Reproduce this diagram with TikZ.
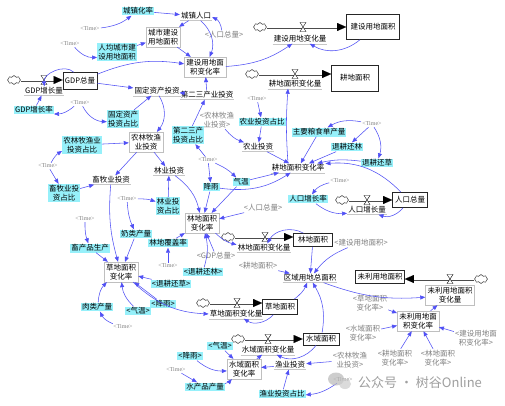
\documentclass[tikz,border=0pt]{standalone}
\usepackage{fontspec}
\newfontfamily\cjk{Noto Sans CJK SC}
\newfontfamily\tmfont{Liberation Serif}
\usetikzlibrary{arrows.meta,shapes.symbols,calc}
\definecolor{arblue}{RGB}{80,80,245}
\definecolor{cyanfill}{RGB}{150,240,250}
\tikzset{
 base/.style={font=\cjk\fontsize{7.5}{9}\selectfont, inner sep=1pt, align=center},
 lbl/.style={base, append after command={(\tikzlastnode.south west) edge[draw=gray!45, line width=0.4pt] (\tikzlastnode.south east)}},
 cy/.style={base, fill=cyanfill},
 aux/.style={base, draw=gray!50, line width=0.4pt, inner sep=2pt},
 sh/.style={base, text=gray},
 stock/.style={base, draw=black!85, line width=0.7pt, inner sep=2pt},
 tm/.style={font=\tmfont\fontsize{6}{7}\selectfont, text=gray, inner sep=1pt},
 cld/.style={cloud, draw=black!80, cloud puffs=8, minimum width=13pt, minimum height=9pt, inner sep=0pt, line width=0.5pt, fill=white},
 ar/.style={draw=arblue, line width=0.55pt, -{Triangle[length=5pt,width=4pt]}},
 pipe/.style={draw=black!70, double=white, double distance=2pt, line width=0.5pt},
 tipa/.style={-{Triangle[length=9pt,width=8pt]}, line width=0.01pt},
 valve/.pic={\draw[fill=white, line width=0.4pt] (-3,4.5) -- (3,4.5) -- (-3,-4.5) -- (3,-4.5) -- cycle;}
}
\begin{document}
\begin{tikzpicture}[x=1pt,y=1pt]
\useasboundingbox[fill=white] (0,0) rectangle (505,-405);

% ---------- nodes ----------
\node[cy] (czhl) at (138,-11) {城镇化率};
\node[lbl] (czrk) at (196,-16) {城镇人口};
\node[tm] (t1) at (90,-29) {<Time>};
\node[tm] (t2) at (70,-44) {<Time>};
\node[cy] (rjcs) at (117,-52) {人均城市建\\设用地面积};
\node[aux] (csjs) at (163,-37) {城市建设\\用地面积};
\node[sh] (rk1) at (224,-35) {<人口总量>};
\node[aux] (jsbh) at (205,-67) {建设用地面\\积变化率};
\node[cld] (c1) at (260,-27) {};
\coordinate (v1) at (303,-27);
\node[lbl] (jsbl) at (300,-39) {建设用地变化量};
\node[stock, minimum width=53pt, minimum height=25pt] (jsmj) at (373,-27) {建设用地面积};

\node[cld] (c2) at (252,-74) {};
\coordinate (v2) at (295,-74);
\node[lbl] (gdbl) at (295,-84) {耕地面积变化量};
\node[stock, minimum width=47pt, minimum height=26pt] (gdmj) at (355,-78) {耕地面积};

\node[cld] (c3) at (14,-80) {};
\coordinate (v3) at (44,-80);
\node[lbl] (gdpzl) at (44,-91) {GDP增长量};
\node[stock, minimum width=34pt, minimum height=17pt] (gdp) at (80,-81) {GDP总量};
\node[cy] (gdpr) at (34,-110) {GDP增长率};
\node[tm] (t3) at (80,-103) {<Time>};
\node[lbl] (gdzc) at (157,-91) {固定资产投资};
\node[cy] (gdzb) at (123,-119) {固定资产\\投资占比};
\node[lbl] (dsc) at (207,-95) {第二三产业投资};
\node[cy] (dscb) at (188,-135) {第二三产\\投资占比};
\node[aux] (nlm) at (146,-142) {农林牧渔\\业投资};
\node[sh] (nlmsh) at (217,-120) {<农林牧渔\\业投资>};
\node[tm] (t4) at (257,-99) {<Time>};
\node[cy] (nyzb) at (262,-122) {农业投资占比};
\node[lbl] (nytz) at (258,-147) {农业投资};
\node[cy] (zyls) at (319,-132) {主要粮食单产量};
\node[tm] (t5) at (372,-124) {<Time>};
\node[cy] (tgl) at (347,-147) {退耕还林};
\node[cy] (tgc) at (377,-163) {退耕还草};
\node[lbl] (gdbh) at (298,-168) {耕地面积变化率};
\node[tm] (t6) at (208,-160) {<Time>};
\node[cy] (jy) at (211,-187) {降雨};
\node[cy] (qw) at (241,-182) {气温};
\node[tm] (t7) at (340,-181) {<Time>};
\node[cy] (rkzzl) at (308,-199) {人口增长率};
\node[cld] (c4) at (342,-200) {};
\coordinate (v4) at (367,-200);
\node[lbl] (rkbl) at (367,-210) {人口增长量};
\node[stock, minimum width=35pt, minimum height=15pt] (rkzl) at (410,-200) {人口总量};

\node[lbl] (lyt) at (169,-171) {林业投资};
\node[cy] (lyzb) at (168,-206) {林业投\\资占比};
\node[tm] (t8) at (127,-199) {<Time>};
\node[lbl] (xm) at (111,-180) {畜牧业投资};
\node[cy] (nlmb) at (82,-145) {农林牧渔业\\投资占比};
\node[tm] (t9) at (48,-166) {<Time>};
\node[cy] (xmzb) at (64,-193) {畜牧业投\\资占比};
\node[tm] (t10) at (85,-219) {<Time>};
\node[cy] (nl) at (136,-234) {奶类产量};
\node[cy] (xcp) at (90,-248) {畜产品生产};
\node[cy] (ldfg) at (168,-243) {林地覆盖率};
\node[aux] (ldbh) at (202,-223) {林地面积\\变化率};
\node[sh] (rk2) at (263,-208) {<人口总量>};
\node[cld] (c5) at (228,-237) {};
\coordinate (v5) at (265,-237);
\node[lbl] (ldbl) at (264,-248) {林地面积变化量};
\node[stock, minimum width=39pt, minimum height=13pt] (ldmj) at (313,-240) {林地面积};
\node[sh] (jsmjsh) at (361,-243) {<建设用地面积>};
\node[tm] (t11) at (168,-266) {<Time>};
\node[sh] (gdpsh) at (216,-256) {<GDP总量>};
\node[cy] (tglsh) at (203,-272) {<退耕还林>};
\node[sh] (gdmjsh) at (258,-266) {<耕地面积>};
\node[lbl] (qyzm) at (310,-278) {区域用地总面积};
\node[cy] (tgcsh) at (171,-284) {<退耕还草>};
\node[aux] (cdbh) at (121,-272) {草地面积\\变化率};
\node[cy] (jysh1) at (163,-304) {<降雨>};
\node[cy] (qwsh1) at (138,-311) {<气温>};
\node[cy] (rl) at (97,-307) {肉类产量};
\node[tm] (t12) at (123,-327) {<Time>};
\node[cld] (c6) at (203,-303) {};
\coordinate (v6) at (237,-303);
\node[lbl] (cdbl) at (236,-314) {草地面积变化量};
\node[stock, minimum width=35pt, minimum height=15pt] (cdmj) at (280,-307) {草地面积};

\node[stock, minimum width=46pt, minimum height=13pt] (wlmj) at (380,-277) {未利用地面积};
\node[cld] (c7) at (481,-279) {};
\coordinate (v7) at (450,-279);
\node[aux] (wlbl) at (450,-295) {未利用地面积\\变化量};
\node[sh] (cdbhsh) at (370,-303) {<草地面积\\变化率>};
\node[aux] (wlbh) at (418,-321) {未利用地面\\积变化率};
\node[sh] (swbhsh) at (363,-333) {<水域面积\\变化率>};
\node[sh] (jsbhsh) at (476,-338) {<建设用地面\\积变化率>};
\node[sh] (nlmsh2) at (350,-360) {<农林牧渔\\业投资>};
\node[sh] (gdbhsh) at (395,-358) {<耕地面积\\变化率>};
\node[sh] (ldbhsh) at (438,-358) {<林地面积\\变化率>};

\node[cld] (c8) at (238,-339) {};
\coordinate (v8) at (268,-339);
\node[lbl] (swbl) at (268,-350) {水域面积变化量};
\node[stock, minimum width=36pt, minimum height=12pt] (swmj) at (321,-339) {水域面积};
\node[cy] (qwsh2) at (220,-346) {<气温>};
\node[cy] (jysh2) at (190,-356) {<降雨>};
\node[aux] (swbh) at (244,-369) {水域面积\\变化率};
\node[lbl] (yytz) at (290,-365) {渔业投资};
\node[tm] (t13) at (176,-370) {<Time>};
\node[cy] (scp) at (205,-387) {水产品产量};
\node[cy] (yyzb) at (282,-394) {渔业投资占比};
\node[tm] (t14) at (343,-380) {<Time>};

% ---------- flows ----------
\foreach \c/\b in {c1/jsmj, c2/gdmj, c3/gdp, c4/rkzl, c5/ldmj, c6/cdmj, c8/swmj}{
  \draw[pipe, shorten >=8pt] (\c) -- (\c -| \b.west);
  \draw[tipa] ($(\c -| \b.west)+(-9,0)$) -- (\c -| \b.west);
}
\draw[pipe, shorten >=8pt] (c7) -- (c7 -| wlmj.east);
\draw[tipa] ($(c7 -| wlmj.east)+(9,0)$) -- (c7 -| wlmj.east);
\foreach \v in {v1,v2,v3,v4,v5,v6,v7,v8}{ \pic at (\v) {valve}; }

% ---------- connectors ----------
\draw[ar] (czhl) -- (czrk);
\draw[ar] (t1) to[bend right=15] (czhl);
\draw[ar] (czrk) -- (csjs);
\draw[ar] (t2) to[bend right=25] (rjcs);
\draw[ar] (rjcs) -- (csjs);
\draw[ar] (rk1) to[bend right=30] (czrk);
\draw[ar] (czrk) to[bend left=35] (jsbh);
\draw[ar] (csjs) -- (jsbh);
\draw[ar] (gdp) to[bend left=15] (jsbh);
\draw[ar] (dsc) -- (jsbh);
\draw[ar] (jsbh) to[bend right=15] (jsbl);
\draw[ar] (jsmj) to[bend left=35] (jsbl);
\draw[ar] ([xshift=-10pt]gdbh.north) to[bend left=4] ([xshift=-7pt]gdbl.south);

\draw[ar] (gdp) to[bend right=70] (gdpzl);
\draw[ar] (gdpr) -- (gdpzl);
\draw[ar] (t3) to[bend left=20] (gdpr);
\draw[ar] (t3) to[bend right=30] (gdzb);
\draw[ar] (gdp) -- (gdzc);
\draw[ar] (gdzb) -- (gdzc);
\draw[ar] (gdzc) -- (dsc);
\draw[ar] (dscb) -- (dsc);
\draw[ar] (gdzc) to[bend left=35] (nlm);
\draw[ar] (nlmb) -- (nlm);
\draw[ar] (t9) to[bend left=15] (nlmb);
\draw[ar] (t9) -- (xmzb);
\draw[ar] (nlm) -- (xm);
\draw[ar] (xmzb) -- (xm);
\draw[ar] (nlm) -- (lyt);
\draw[ar] (lyzb) -- (lyt);
\draw[ar] (t8) to[bend left=10] (lyzb);
\draw[ar] (t8) to[bend right=10] (nl);
\draw[ar] (t10) to[bend right=10] (xcp);
\draw[ar] (xm) to[bend right=10] (cdbh);
\draw[ar] (nl) -- (cdbh);
\draw[ar] (xcp) -- (cdbh);
\draw[ar] (rl) to[bend left=20] (cdbh);
\draw[ar] (t12) to[bend left=20] (rl);
\draw[ar] (qwsh1) to[bend left=20] (cdbh);
\draw[ar] (jysh1) -- (cdbh);
\draw[ar] (tgcsh) -- (cdbh);
\draw[ar] (cdbh) to[bend right=20] (cdbl);
\draw[ar] (cdmj) to[bend left=40] (cdbl);

\draw[ar] (lyt) to[bend left=20] (ldbh);
\draw[ar] (ldfg) -- (ldbh);
\draw[ar] (jy) -- (ldbh);
\draw[ar] (qw) -- (ldbh);
\draw[ar] (t6) -- (jy);
\draw[ar] (t6) to[bend left=10] (qw);
\draw[ar] (t6) -- (dscb);
\draw[ar] (rk2) -- (ldbh);
\draw[ar] (gdpsh) -- (ldbh);
\draw[ar] (tglsh) to[bend right=15] (ldbh);
\draw[ar] (t11) -- (ldfg);
\draw[ar] (ldbh) to[bend right=15] (ldbl);
\draw[ar] (ldmj) to[bend right=45] (ldbl);
\draw[ar] (jy) to[bend right=20] (gdbh);
\draw[ar] (qw) -- (gdbh);

\draw[ar] (t4) -- (nyzb);
\draw[ar] (nyzb) -- (nytz);
\draw[ar] (nlmsh) to[bend right=15] (nytz);
\draw[ar] (nytz) -- (gdbh);
\draw[ar] (zyls) -- (gdbh);
\draw[ar] (tgl) -- (gdbh);
\draw[ar] (tgc) to[bend right=10] (gdbh);
\draw[ar] (t5) to[bend right=20] (zyls);
\draw[ar] (t5) -- (tgl);
\draw[ar] (t5) to[bend left=25] (tgc);
\draw[ar] (rkzl) to[bend right=25] (gdbh);
\draw[ar] (t7) to[bend right=20] (rkzzl);
\draw[ar] (rkzzl) to[bend right=20] (rkbl);
\draw[ar] (rkzl) to[bend left=35] (rkbl);

\draw[ar] (ldmj) -- (qyzm);
\draw[ar] (gdmjsh) -- (qyzm);
\draw[ar] (jsmjsh) to[bend right=15] (qyzm);
\draw[ar] (cdmj) to[bend right=15] (qyzm);
\draw[ar] (swmj) to[bend right=20] (qyzm);
\draw[ar] (qyzm) to[bend right=12] (wlbl);
\draw[ar] (wlbh) -- (wlbl);
\draw[ar] (cdbhsh) -- (wlbh);
\draw[ar] (swbhsh) -- (wlbh);
\draw[ar] (jsbhsh) -- (wlbh);
\draw[ar] (gdbhsh) -- (wlbh);
\draw[ar] (ldbhsh) -- (wlbh);

\draw[ar] (swmj) to[bend left=40] (swbl);
\draw[ar] (swbh) -- (swbl);
\draw[ar] (qwsh2) -- (swbh);
\draw[ar] (jysh2) to[bend right=20] (swbh);
\draw[ar] (t13) -- (scp);
\draw[ar] (scp) to[bend right=15] (swbh);
\draw[ar] (yytz) -- (swbh);
\draw[ar] (yyzb) -- (yytz);
\draw[ar] (nlmsh2) -- (yytz);
\draw[ar] (t14) to[bend left=15] (yyzb);

% ---------- watermark ----------
\fill[gray!55, opacity=0.7] (336,-379) ellipse (8 and 6.5);
\fill[gray!40, opacity=0.7] (345,-384) ellipse (6 and 5);
\node[font=\cjk\fontsize{13}{14}\selectfont, text=gray!75, inner sep=0pt] (wm) at (420,-383) {公众号 · 树谷Online};
\end{tikzpicture}
\end{document}
